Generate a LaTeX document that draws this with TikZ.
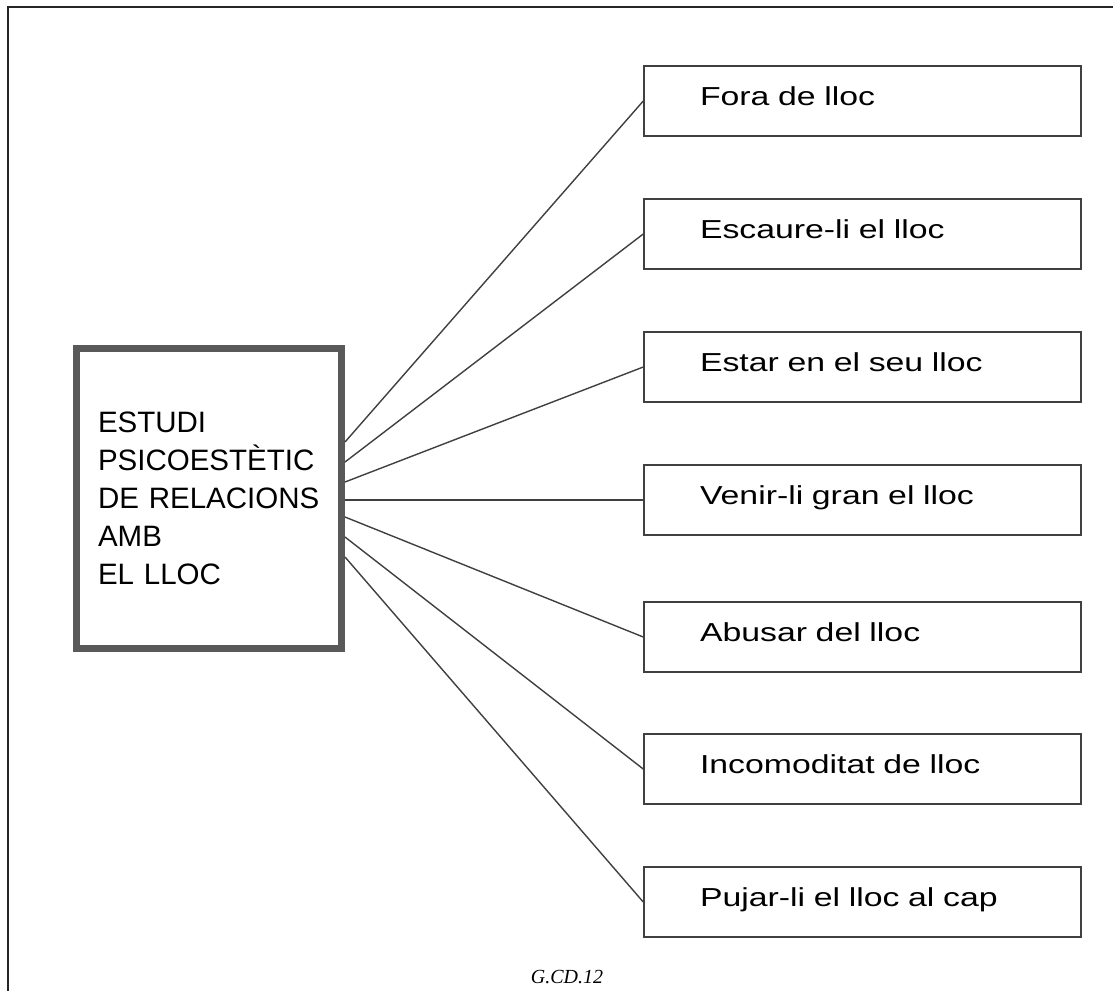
\documentclass[tikz,border=0pt]{standalone}
\usepackage{fontspec}
\setmainfont{Liberation Sans}
\newfontfamily\boxfont[FakeStretch=1.3]{Liberation Sans}
\newfontfamily\capfont{Liberation Serif}
\begin{document}
\begin{tikzpicture}[x=1pt,y=-1pt,
  frameline/.style={draw=black!85,line width=2.5pt},
  centerbox/.style={draw=black!65,line width=7pt,minimum width=265pt,minimum height=300pt,
    inner xsep=21.5pt,text width=222pt,align=left,
    font=\fontsize{29.5pt}{38pt}\selectfont},
  itembox/.style={draw=black!75,line width=1.5pt,minimum width=437pt,minimum height=70pt,
    inner xsep=56pt,text width=325pt,align=left,text height=13pt,text depth=5pt,
    font=\boxfont\fontsize{26pt}{28pt}\selectfont},
  conn/.style={draw=black!75,line width=1.4pt},
  captext/.style={font=\capfont\itshape\fontsize{20pt}{22pt}\selectfont,inner sep=0pt}]
\useasboundingbox (0,0) rectangle (1113,991);
\fill[white] (0,0) rectangle (1113,991);
\draw[frameline] (8,991) -- (8,7) -- (1113,7);

\node[centerbox] (c) at (209,498.5) {ESTUDI\\PSICOESTÈTIC\\DE RELACIONS\\AMB\\EL LLOC};

\node[itembox] (b1) at (862.5,101) {Fora de lloc};
\node[itembox] (b2) at (862.5,234) {Escaure-li el lloc};
\node[itembox] (b3) at (862.5,367) {Estar en el seu lloc};
\node[itembox] (b4) at (862.5,500) {Venir-li gran el lloc};
\node[itembox] (b5) at (862.5,637) {Abusar del lloc};
\node[itembox] (b6) at (862.5,769) {Incomoditat de lloc};
\node[itembox] (b7) at (862.5,902) {Pujar-li el lloc al cap};

\draw[conn] (c.east |- 0,442) -- (b1.west);
\draw[conn] (c.east |- 0,462) -- (b2.west);
\draw[conn] (c.east |- 0,482) -- (b3.west);
\draw[conn] (c.east |- 0,500) -- (b4.west);
\draw[conn] (c.east |- 0,517) -- (b5.west);
\draw[conn] (c.east |- 0,537) -- (b6.west);
\draw[conn] (c.east |- 0,557) -- (b7.west);

\node[captext,anchor=base] (cap) at (567,983) {G.CD.12};
\end{tikzpicture}
\end{document}
